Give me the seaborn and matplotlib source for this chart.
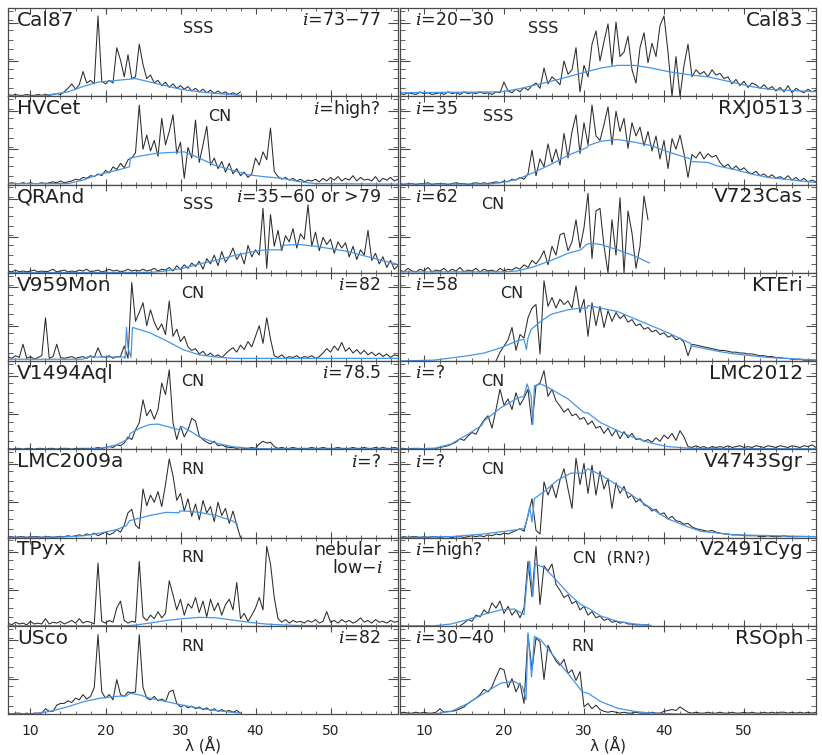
import numpy as np
import matplotlib
matplotlib.use("Agg")
import matplotlib.pyplot as plt
from matplotlib.ticker import MultipleLocator, FixedLocator
import seaborn as sns

# flux is in percent of the panel height, one bin every 0.5 A from the start wavelength
STEP = 0.5

# ---------------- left column ----------------
cal87_start = 7.0
cal87_flux = [2, 1, 2, 1, 1, 2, 1, 1, 2, 1,
              2, 1, 2, 3, 2, 5, 9, 14, 8, 13,
              28, 15, 18, 14, 91, 17, 14, 18, 15, 55,
              41, 22, 47, 20, 22, 59, 36, 20, 24, 15,
              18, 12, 16, 10, 14, 9, 12, 8, 11, 6,
              9, 5, 8, 4, 7, 3, 6, 3, 5, 2,
              4, 2, 5]
cal87_model_wave = [7, 10, 12, 15, 17, 19, 21.5, 24, 26, 28, 30, 32.5, 35, 38]
cal87_model_flux = [0, 0, 1, 5, 11, 16, 18, 20, 16, 12, 8, 5, 3, 1]

hvcet_start = 7.0
hvcet_flux = [1, 2, 1, 1, 2, 1, 2, 1, 1, 2,
              1, 2, 3, 2, 4, 2, 3, 4, 6, 5,
              8, 7, 10, 9, 12, 10, 16, 13, 20, 17,
              24, 19, 28, 30, 36, 90, 40, 56, 38, 50,
              32, 75, 45, 60, 79, 35, 48, 7, 42, 30,
              73, 25, 45, 66, 22, 30, 18, 26, 14, 24,
              12, 18, 10, 14, 8, 12, 30, 22, 37, 28,
              64, 15, 9, 6, 8, 5, 7, 4, 6, 3,
              5, 4, 6, 3, 7, 4, 8, 5, 9, 4,
              7, 5, 10, 4, 8, 5, 6, 4, 9, 3,
              7, 5, 8, 4, 6]
hvcet_model_wave = [7, 12, 15, 17, 19, 21.5, 23.2, 23.3, 24.5, 26.5, 28, 30.5, 32.5,
                    34.5, 37, 39, 41, 43.5, 46, 48, 59]
hvcet_model_flux = [1, 1, 1, 5, 11, 16, 20, 30, 32, 35, 36, 37, 30,
                    22, 16, 11, 9, 7, 3, 1, 0.5]

qrand_start = 7.0
qrand_flux = [2, 1, 3, 1, 2, 1, 2, 3, 1, 2,
              1, 2, 4, 1, 2, 3, 1, 2, 1, 3,
              2, 4, 1, 2, 3, 1, 2, 4, 2, 3,
              1, 2, 4, 2, 3, 2, 4, 2, 3, 5,
              2, 4, 3, 6, 2, 8, 4, 9, 5, 11,
              7, 13, 4, 16, 10, 20, 8, 24, 12, 18,
              28, 15, 22, 10, 31, 18, 26, 20, 73, 5,
              66, 30, 48, 25, 42, 35, 50, 28, 44, 38,
              77, 30, 46, 25, 40, 32, 38, 22, 35, 28,
              34, 18, 30, 15, 26, 20, 48, 14, 22, 10,
              18, 6, 14, 4, 8]
qrand_model_wave = [7, 26, 28, 30.3, 32.5, 34.7, 36.9, 39.1, 41.3, 43.4, 43.5,
                    45.8, 48, 50.2, 52.4, 54.6, 56.8, 58.8]
qrand_model_flux = [0, 0.5, 2, 5, 10, 14, 19, 23, 26, 26, 31,
                    32, 30, 27, 24, 19, 14, 10]

v959mon_start = 7.0
v959mon_flux = [5, 3, 6, 4, 19, 3, 5, 2, 4, 6,
                49, 3, 5, 19, 4, 3, 4, 5, 3, 4,
                5, 3, 6, 4, 15, 5, 4, 6, 3, 5,
                5, 17, 3, 89, 45, 55, 66, 40, 58, 44,
                35, 42, 30, 68, 28, 36, 22, 28, 16, 12,
                14, 8, 11, 6, 9, 5, 7, 4, 8, 12,
                15, 10, 18, 13, 22, 16, 28, 40, 20, 49,
                25, 6, 4, 7, 3, 5, 4, 6, 3, 5,
                4, 6, 3, 5, 9, 14, 10, 17, 12, 21,
                11, 15, 9, 13, 8, 12, 7, 10, 6, 9,
                5, 8, 4, 7, 6]
v959mon_model_wave = [7, 17, 17.5, 22.5, 22.6, 22.8, 23.0, 23.4, 23.6, 25.9, 28.1,
                      30.3, 32.5, 34.7, 37, 59]
v959mon_model_flux = [2, 2, 4.5, 4.5, 3, 38, 15, 4, 38, 32, 23,
                      13, 7, 4.5, 3, 3]

v1494aql_start = 7.0
v1494aql_flux = [1, 0, 1, 1, 0, 1, 1, 0, 1, 1,
                 0, 1, 1, 0, 1, 1, 1, 0, 1, 1,
                 1, 1, 1, 1, 2, 1, 2, 3, 2, 5,
                 4, 7, 14, 11, 22, 30, 56, 38, 45, 34,
                 45, 75, 62, 90, 30, 11, 26, 14, 22, 35,
                 32, 15, 11, 8, 6, 9, 4, 5, 3, 2,
                 2, 1, 2, 1, 1, 2, 1, 6, 9, 7,
                 8, 3, 1, 2, 1, 1, 2, 1, 1, 1,
                 1, 2, 1, 1, 2, 1, 1, 1, 2, 1,
                 1, 1, 2, 1, 1, 2, 1, 1, 2, 1,
                 2, 1, 1, 2, 1]
v1494aql_model_wave = [7, 17, 19.3, 21.5, 23.1, 23.3, 24.6, 25.9, 27, 28.1, 29.4, 29.9,
                       30.1, 31.4, 32.5, 34.7, 36.9, 39.1, 42, 59]
v1494aql_model_flux = [0, 0, 1, 5, 12, 18, 24, 28, 28.5, 26, 23, 22,
                       26, 20, 14, 7, 3, 1, 0.5, 0.3]

lmc2009a_start = 7.0
lmc2009a_flux = [1, 1, 0, 1, 1, 0, 1, 1, 1, 0,
                 1, 1, 0, 1, 1, 1, 2, 1, 2, 3,
                 2, 4, 3, 5, 2, 4, 6, 3, 5, 9,
                 6, 14, 28, 32, 14, 10, 55, 36, 48, 40,
                 52, 35, 60, 89, 70, 42, 50, 30, 44, 24,
                 38, 20, 42, 28, 35, 18, 40, 25, 33, 16,
                 30, 14, 0]
lmc2009a_model_wave = [7, 14, 17.1, 19.3, 21.5, 22.8, 23.2, 24.6, 25.9, 28.1, 29.8,
                       29.9, 30.7, 32.5, 34.7, 36.9, 37.6]
lmc2009a_model_flux = [0.3, 0.5, 2, 5, 9, 13.5, 19, 22, 25, 28.5, 28,
                       30, 30, 28.5, 25, 19, 15]

tpyx_start = 7.0
tpyx_flux = [3, 1, 4, 2, 3, 1, 5, 2, 3, 2,
             8, 2, 4, 3, 5, 2, 4, 6, 3, 8,
             3, 5, 4, 2, 71, 5, 3, 6, 4, 20,
             28, 6, 3, 5, 4, 73, 10, 6, 12, 8,
             16, 9, 14, 51, 35, 18, 30, 12, 25, 20,
             32, 15, 28, 10, 30, 17, 26, 12, 24, 30,
             18, 49, 8, 14, 5, 12, 20, 32, 18, 90,
             70, 32, 8, 4, 7, 3, 6, 4, 5, 3,
             6, 4, 7, 3, 5, 16, 4, 6, 3, 7,
             4, 6, 3, 5, 9, 4, 6, 3, 7, 4,
             5, 3, 6, 4, 5]
tpyx_model_wave = [7, 22.4, 23.7, 25.9, 28.1, 30.3, 32.5, 34.7, 36.9, 39.1, 41.3,
                   43.5, 45.8, 59]
tpyx_model_flux = [0, 0, 0.5, 3, 6, 8, 9.5, 9, 6.5, 4, 2,
                   1, 0.3, 0]

usco_start = 7.0
usco_flux = [1, 0, 1, 1, 0, 1, 0, 1, 1, 1,
             6, 3, 3, 10, 12, 12, 15, 13, 18, 16,
             22, 17, 20, 30, 90, 25, 18, 22, 16, 39,
             22, 20, 25, 24, 25, 90, 30, 18, 16, 20,
             15, 17, 14, 25, 27, 12, 8, 10, 7, 9,
             6, 8, 5, 7, 4, 6, 3, 5, 3, 4,
             2, 4, 1]
usco_model_wave = [7, 10.4, 12.6, 14.9, 17.1, 19.3, 21.5, 22.8, 23.3, 24.6, 25.9,
                   28.1, 30.3, 32.5, 34.7, 37.8]
usco_model_flux = [0, 0, 3, 8, 14, 18, 20, 20.5, 23.5, 21.5, 18,
                   14, 10, 6.5, 4, 1]

# ---------------- right column ----------------
cal83_start = 7.0
cal83_flux = [3, 2, 4, 3, 2, 5, 3, 4, 2, 3,
              4, 2, 5, 3, 4, 2, 5, 3, 4, 3,
              5, 3, 4, 2, 5, 4, 16, 6, 4, 8,
              5, 10, 7, 12, 15, 9, 32, 14, 22, 18,
              13, 40, 25, 30, 55, 5, 35, 22, 59, 74,
              40, 62, 82, 35, 84, 45, 50, 68, 30, 15,
              55, 72, 38, 60, 45, 80, 91, 50, 0, 45,
              0, 35, 59, 22, 30, 25, 28, 22, 30, 24,
              26, 20, 22, 14, 19, 12, 17, 10, 15, 13,
              9, 13, 8, 11, 6, 10, 5, 12, 4, 9,
              6, 4, 8, 5, 7]
cal83_model_wave = [7, 19.6, 21.7, 23.8, 25.9, 28, 30, 32.1, 34.2, 36.3, 38.4, 40.5,
                    43.4, 45.5, 47.5, 50.9, 53, 59.2]
cal83_model_flux = [4, 5, 8, 12.6, 17, 22, 27, 32, 35, 35, 32, 28,
                    24, 22, 18, 11, 8, 5]

rxj0513_start = 7.0
rxj0513_flux = [1, 0, 1, 1, 0, 1, 1, 2, 0, 1,
                1, 1, 0, 1, 2, 1, 1, 0, 1, 2,
                1, 2, 1, 2, 3, 2, 4, 3, 6, 5,
                8, 6, 12, 39, 10, 29, 20, 46, 25, 40,
                22, 58, 30, 60, 79, 35, 70, 45, 90, 55,
                50, 68, 88, 45, 83, 60, 75, 41, 70, 55,
                65, 44, 60, 38, 55, 29, 50, 18, 52, 40,
                56, 35, 8, 34, 30, 37, 29, 35, 31, 33,
                25, 20, 23, 17, 21, 16, 19, 14, 12, 15,
                10, 12, 8, 11, 7, 9, 6, 10, 5, 8,
                4, 7, 3, 5, 3]
rxj0513_model_wave = [7, 18, 19.6, 21.7, 23.8, 25.9, 28, 30.4, 30.5, 32.1, 34.2, 36.3,
                      38.4, 40.5, 43.3, 43.4, 45.5, 46.7, 48.8, 50.9, 53, 59.2]
rxj0513_model_flux = [0.5, 0.5, 2, 6, 14, 23, 33, 42, 44, 49, 51, 48,
                      44, 37, 29, 26, 25, 21, 17, 12, 8, 2]

v723cas_start = 7.0
v723cas_flux = [3, 1, 5, 2, 1, 4, 2, 6, 1, 3,
                2, 5, 1, 4, 2, 6, 1, 3, 2, 5,
                1, 4, 2, 3, 1, 5, 2, 4, 3, 6,
                4, 9, 6, 14, 10, 16, 25, 9, 30, 20,
                43, 45, 25, 35, 60, 28, 51, 90, 16, 70,
                73, 30, 0, 60, 20, 85, 0, 70, 45, 5,
                30, 87, 60]
v723cas_model_wave = [7, 19.6, 21.7, 23.8, 25.9, 28, 29.6, 30.3, 30.9, 32.1, 34.2,
                      36.3, 38.2]
v723cas_model_flux = [1, 1, 2, 7, 14, 22, 26, 32, 33.5, 32, 26,
                      19, 11]

kteri_start = 19.0
kteri_flux = [0, 10, 17, 24, 38, 12, 30, 26, 49, 60,
              64, 8, 91, 62, 72, 60, 70, 64, 68, 60,
              85, 55, 70, 28, 66, 40, 62, 38, 57, 45,
              55, 48, 52, 44, 47, 40, 42, 36, 38, 33,
              35, 30, 32, 27, 29, 24, 26, 21, 6, 19,
              18, 17, 16, 15, 14, 13, 12, 12, 11, 10,
              10, 9, 9, 8, 8, 7, 6, 6, 5, 5,
              4, 4, 3, 3, 2, 2, 2, 1, 1, 1,
              1]
kteri_model_wave = [7, 11.3, 15.5, 17.5, 19.6, 21.7, 22.5, 22.8, 23.0, 23.4, 24.6,
                    25.9, 28, 29.6, 30.4, 30.5, 32.1, 34.2, 36.3, 38.4, 40.5,
                    42.6, 43.3, 43.4, 44.6, 46.7, 48.8, 53, 59.2]
kteri_model_flux = [0, 1, 6, 9, 15, 23, 24.5, 13, 26, 36, 45,
                    53, 58, 60, 60, 63, 60, 56, 48, 40, 32,
                    23, 20, 17, 15, 11, 8, 4, 1]

lmc2012_start = 7.0
lmc2012_flux = [1, 1, 0, 1, 1, 1, 0, 1, 1, 1,
                2, 3, 4, 6, 8, 12, 10, 15, 19, 17,
                26, 33, 38, 24, 45, 68, 50, 57, 45, 64,
                50, 58, 68, 28, 72, 75, 89, 60, 68, 55,
                49, 42, 46, 38, 40, 34, 36, 28, 32, 24,
                26, 18, 24, 15, 22, 12, 20, 13, 18, 11,
                12, 9, 11, 8, 13, 9, 16, 12, 18, 10,
                21, 14, 3, 2, 4, 2, 3, 1, 3, 2,
                3, 2, 4, 2, 3, 4, 2, 3, 2, 4,
                3, 2, 4, 3, 2, 4, 3, 2, 4, 3,
                2, 4, 3, 5, 2]
lmc2012_model_wave = [7, 11.3, 13.4, 15.5, 17.2, 17.5, 19.6, 21.7, 22.5, 22.9, 23.4,
                      23.6, 23.8, 24.6, 25.9, 28, 30, 30.5, 32.1, 34.2, 36.3,
                      38.4, 40.5, 43.4, 59]
lmc2012_model_flux = [0, 1, 6, 17, 27, 32, 47, 58, 60, 74, 60,
                      28, 72, 74, 68, 57, 41.5, 41, 30, 21, 13,
                      7, 3, 1, 0.5]

v4743sgr_start = 7.0
v4743sgr_flux = [0, 1, 0, 1, 1, 0, 1, 0, 1, 1,
                 0, 1, 1, 0, 1, 1, 0, 1, 2, 1,
                 2, 1, 3, 2, 4, 3, 5, 4, 6, 8,
                 10, 7, 25, 44, 8, 4, 63, 48, 60, 45,
                 65, 78, 55, 33, 90, 60, 84, 50, 82, 48,
                 75, 55, 67, 33, 62, 50, 58, 45, 48, 40,
                 44, 37, 35, 30, 32, 26, 28, 21, 24, 19,
                 18, 15, 16, 12, 10, 9, 8, 7, 8, 6,
                 5, 4, 4, 3, 3, 3, 2, 2, 2, 2,
                 1, 1, 2, 1, 1, 1, 2, 1, 1, 1,
                 1, 1, 1, 1, 1]
v4743sgr_model_wave = [7, 13.4, 17.5, 20.9, 22.5, 22.9, 23.2, 23.5, 23.8, 25, 26.7,
                       28.4, 30, 30.5, 32.1, 34.2, 36.3, 38.4, 40.5, 43, 44.6,
                       48.8, 59]
v4743sgr_model_flux = [0, 1, 4, 8, 10, 21, 35, 17.5, 44, 52, 65,
                       73, 73, 78, 71, 59, 46, 33, 21, 12, 7,
                       3, 1]

v2491cyg_start = 14.5
v2491cyg_flux = [0, 3, 7, 5, 12, 10, 18, 14, 26, 20,
                 28, 14, 22, 12, 18, 9, 20, 73, 33, 90,
                 24, 68, 62, 70, 47, 40, 32, 35, 25, 28,
                 18, 22, 12, 16, 9, 11, 6, 8, 4, 5,
                 3, 4, 2, 2, 1, 1, 1, 1]
v2491cyg_model_wave = [7, 11.3, 13.4, 15.5, 17.5, 19.6, 21.3, 22.5, 22.9, 23.2, 23.6,
                       23.9, 25, 26.3, 28, 29.6, 30.7, 32.1, 34.2, 36.3, 38.4]
v2491cyg_model_flux = [0, 0, 2, 7, 13, 18, 19, 12.5, 54, 73, 33,
                       70, 66, 54, 37, 24, 19, 11, 5, 2, 0.5]

rsoph_start = 7.0
rsoph_flux = [1, 2, 1, 1, 2, 1, 2, 1, 1, 2,
              6, 2, 3, 3, 4, 6, 8, 12, 15, 18,
              22, 28, 25, 31, 42, 52, 50, 30, 40, 25,
              35, 12, 90, 50, 86, 82, 39, 78, 68, 60,
              55, 62, 46, 50, 38, 48, 8, 12, 6, 10,
              5, 3, 2, 3, 2, 1, 2, 1, 1, 2,
              1, 1, 1, 2, 1, 1, 3, 4, 5, 4,
              8, 5, 2, 1, 2, 1, 1, 2, 1, 1,
              2, 1, 1, 2, 1, 1, 2, 1, 2, 1,
              1, 2, 1, 2, 1, 2, 2, 1, 2, 1,
              2, 1, 2, 1, 2]
rsoph_model_wave = [7, 11.3, 13.4, 15.5, 17.5, 19.6, 21.3, 22.3, 22.75, 23.0, 23.45,
                    23.8, 24.6, 25.9, 28, 29.8, 30.5, 32.1, 34.2, 36.3, 38.4, 42, 59]
rsoph_model_flux = [0, 0, 3, 12, 23.5, 35, 37, 31, 16, 92, 42,
                    88, 84, 69, 46, 25, 23.5, 14, 6.5, 3, 1, 0, 0]

# name, inclination note, source class
left_names = ["Cal87", "HVCet", "QRAnd", "V959Mon", "V1494Aql", "LMC2009a", "TPyx", "USco"]
left_incl = [r"$i$=73−77", r"$i$=high?", r"$i$=35−60 or >79", r"$i$=82", r"$i$=78.5",
             r"$i$=?", "nebular", r"$i$=82"]
left_class = ["SSS", "CN", "SSS", "CN", "CN", "RN", "RN", "RN"]
right_names = ["Cal83", "RXJ0513", "V723Cas", "KTEri", "LMC2012", "V4743Sgr", "V2491Cyg", "RSOph"]
right_incl = [r"$i$=20−30", r"$i$=35", r"$i$=62", r"$i$=58", r"$i$=?", r"$i$=?",
              r"$i$=high?", r"$i$=30−40"]
right_class = ["SSS", "SSS", "CN", "CN", "CN", "CN", "CN  (RN?)", "RN"]

left_spectra = [
    (cal87_start, cal87_flux, cal87_model_wave, cal87_model_flux),
    (hvcet_start, hvcet_flux, hvcet_model_wave, hvcet_model_flux),
    (qrand_start, qrand_flux, qrand_model_wave, qrand_model_flux),
    (v959mon_start, v959mon_flux, v959mon_model_wave, v959mon_model_flux),
    (v1494aql_start, v1494aql_flux, v1494aql_model_wave, v1494aql_model_flux),
    (lmc2009a_start, lmc2009a_flux, lmc2009a_model_wave, lmc2009a_model_flux),
    (tpyx_start, tpyx_flux, tpyx_model_wave, tpyx_model_flux),
    (usco_start, usco_flux, usco_model_wave, usco_model_flux),
]
right_spectra = [
    (cal83_start, cal83_flux, cal83_model_wave, cal83_model_flux),
    (rxj0513_start, rxj0513_flux, rxj0513_model_wave, rxj0513_model_flux),
    (v723cas_start, v723cas_flux, v723cas_model_wave, v723cas_model_flux),
    (kteri_start, kteri_flux, kteri_model_wave, kteri_model_flux),
    (lmc2012_start, lmc2012_flux, lmc2012_model_wave, lmc2012_model_flux),
    (v4743sgr_start, v4743sgr_flux, v4743sgr_model_wave, v4743sgr_model_flux),
    (v2491cyg_start, v2491cyg_flux, v2491cyg_model_wave, v2491cyg_model_flux),
    (rsoph_start, rsoph_flux, rsoph_model_wave, rsoph_model_flux),
]

# horizontal position (axes fraction) of the class label in each panel
left_class_x = [0.487, 0.544, 0.487, 0.474, 0.474, 0.474, 0.474, 0.474]
right_class_x = [0.344, 0.236, 0.224, 0.269, 0.224, 0.224, 0.51, 0.44]

DATA_COLOR = "#2b2b2b"
MODEL_COLOR = "#4596e8"
TEXT_COLOR = "#222222"
FRAME_COLOR = "#4a4a4a"

sns.set_theme(style="ticks")
plt.rcParams["font.family"] = ["DejaVu Sans"]
plt.rcParams["mathtext.fontset"] = "dejavuserif"

fig = plt.figure(figsize=(8.22, 7.55), dpi=100)

TOP = 1 - 8 / 755
BOTTOM = 41 / 755
ROW_H = (TOP - BOTTOM) / 8
COLS = [(8 / 822, 390 / 822), (400 / 822, 416 / 822)]


def style_axes(ax, bottom_row):
    ax.set_xlim(7, 59)
    ax.set_ylim(0, 100)
    ax.xaxis.set_major_locator(MultipleLocator(10))
    ax.xaxis.set_minor_locator(MultipleLocator(2))
    ax.yaxis.set_major_locator(FixedLocator([40, 83.5]))
    ax.yaxis.set_minor_locator(FixedLocator(np.arange(9.6, 100, 10.9)))
    ax.tick_params(which="both", direction="in", top=True, right=True,
                   color=FRAME_COLOR, labelleft=False, labelbottom=bottom_row)
    ax.tick_params(axis="y", which="major", length=7, width=0.8)
    ax.tick_params(axis="y", which="minor", length=3.5, width=0.6)
    ax.tick_params(axis="x", which="major", length=4, width=0.8)
    ax.tick_params(axis="x", which="minor", length=2, width=0.6)
    ax.tick_params(axis="x", labelsize=10, pad=7, labelcolor=TEXT_COLOR)
    for sp in ax.spines.values():
        sp.set_color(FRAME_COLOR)
        sp.set_linewidth(0.9)
    ax.set_ylabel("")
    if bottom_row:
        ax.set_xlabel("λ (Å)", fontsize=11, color=TEXT_COLOR)
        ax.xaxis.set_label_coords(0.5, -0.35)
        ax.xaxis.label.set_va("center")
    else:
        ax.set_xlabel("")


for col, (spectra, names, incl, classes, cls_x) in enumerate([
        (left_spectra, left_names, left_incl, left_class, left_class_x),
        (right_spectra, right_names, right_incl, right_class, right_class_x)]):
    x0, w = COLS[col]
    for row, (start, flux, mwave, mflux) in enumerate(spectra):
        ax = fig.add_axes([x0, TOP - (row + 1) * ROW_H, w, ROW_H])
        wave = start + STEP * np.arange(len(flux))
        sns.lineplot(x=wave, y=flux, ax=ax, color=DATA_COLOR, lw=0.75,
                     estimator=None, sort=False)
        sns.lineplot(x=mwave, y=mflux, ax=ax, color=MODEL_COLOR, lw=0.9,
                     estimator=None, sort=False)
        style_axes(ax, row == 7)

        if col == 0:
            ax.text(0.023, 0.86, names[row], transform=ax.transAxes, ha="left",
                    va="center", fontsize=14.5, color=TEXT_COLOR)
            ax.text(0.956, 0.86, incl[row], transform=ax.transAxes, ha="right",
                    va="center", fontsize=12.5, color=TEXT_COLOR)
        else:
            ax.text(0.036, 0.86, incl[row], transform=ax.transAxes, ha="left",
                    va="center", fontsize=12.5, color=TEXT_COLOR)
            ax.text(0.969, 0.86, names[row], transform=ax.transAxes, ha="right",
                    va="center", fontsize=14.5, color=TEXT_COLOR)
        ax.text(cls_x[row], 0.77, classes[row], transform=ax.transAxes, ha="center",
                va="center", fontsize=11.5, color=TEXT_COLOR)
        if col == 0 and names[row] == "TPyx":
            ax.text(0.962, 0.66, r"low−$i$", transform=ax.transAxes, ha="right",
                    va="center", fontsize=12.5, color=TEXT_COLOR)

fig.savefig("out.png", dpi=100)
